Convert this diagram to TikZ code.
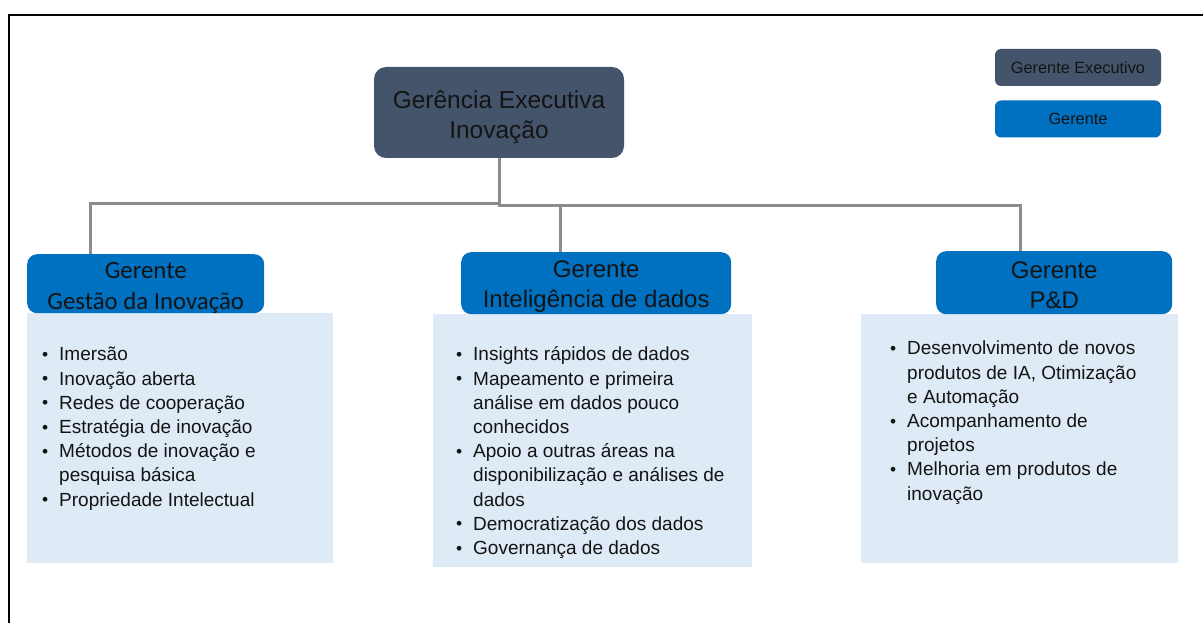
\documentclass[tikz,border=0pt]{standalone}
\usepackage{fontspec}
\setmainfont{Liberation Sans}
\newfontfamily\calibfont{Carlito}

\definecolor{execcol}{HTML}{44546A}
\definecolor{gercol}{HTML}{0070C0}
\definecolor{bodycol}{HTML}{DEEAF6}
\definecolor{linecol}{HTML}{8C8C8C}
\definecolor{txtcol}{HTML}{141414}

\newcommand{\orgbul}{\makebox[17pt][l]{\strut\raisebox{0.4pt}{\fontsize{17.5}{17.5}\selectfont\textbullet}}}
\newcommand{\orgcont}{\makebox[17pt][l]{\strut}}

\tikzset{
  execbox/.style={fill=execcol, rounded corners=12pt, minimum width=250pt, minimum height=91pt,
    inner sep=0pt},
  legbox/.style={rounded corners=6pt, minimum width=166pt, minimum height=37pt,
    text=txtcol, inner sep=0pt, font=\fontsize{16.3}{18}\selectfont},
  hdbox/.style={fill=gercol, rounded corners=10pt, anchor=north west, inner sep=0pt},
  boxtxt/.style={align=center, text=txtcol, inner sep=0pt, font=\fontsize{24}{30}\selectfont},
  bodybox/.style={fill=bodycol, anchor=north west, inner sep=0pt},
  bodytxt/.style={anchor=north west, align=left, inner sep=0pt, text=txtcol,
    font=\fontsize{19}{24.2}\selectfont},
  conn/.style={draw=linecol, line width=3pt},
  frameline/.style={draw=black, line width=2.5pt}
}

\begin{document}
\begin{tikzpicture}[x=1pt,y=-1pt]
  \useasboundingbox[fill=white] (0,0) rectangle (1203,623);
  \draw[frameline] (1203,15) -- (9,15) -- (9,623);

  % top box and legend
  \node[execbox] (exec) at (499,112.5) {};
  \node[boxtxt, font=\fontsize{24.5}{30}\selectfont] (exect) at ([yshift=-5pt]exec.center)
    {Gerência Executiva\\Inovação};
  \node[legbox, fill=execcol] (legexec) at (1078,67.5) {Gerente Executivo};
  \node[legbox, fill=gercol] (legger) at (1078,119) {Gerente};

  % bodies
  \node[bodybox, minimum width=306pt, minimum height=250pt] (bx1) at (27,313) {};
  \node[bodybox, minimum width=319pt, minimum height=253pt] (bx2) at (433,314) {};
  \node[bodybox, minimum width=317pt, minimum height=249pt] (bx3) at (861,314) {};

  % managers
  \node[hdbox, minimum width=237pt, minimum height=59pt] (hd1) at (27,254) {};
  \node[hdbox, minimum width=270pt, minimum height=62pt] (hd2) at (461,252) {};
  \node[hdbox, minimum width=236pt, minimum height=63pt] (hd3) at (936,251) {};
  \node[boxtxt, font=\calibfont\fontsize{24.8}{31}\selectfont] (hd1t) at ([yshift=-4pt]hd1.center)
    {Gerente\\Gestão da Inovação};
  \node[boxtxt] (hd2t) at ([yshift=-3pt]hd2.center) {Gerente\\Inteligência de dados};
  \node[boxtxt] (hd3t) at ([yshift=-2.5pt]hd3.center) {Gerente\\P\&D};

  % connectors
  \coordinate (busL) at (90,204);
  \coordinate (busR) at (1020,206);
  \coordinate (busM) at (560,206);
  \draw[conn] (exec.south) -- (exec.south |- busL) -- (busL) -- (busL |- hd1.north);
  \draw[conn] (exec.south |- busL) -- (exec.south |- busR) -- (busR) -- (busR |- hd3.north);
  \draw[conn] (busM) -- (busM |- hd2.north);

  % lists
  \node[bodytxt] (tx1) at (42,343.7) {%
    \orgbul Imersão\\
    \orgbul Inovação aberta\\
    \orgbul Redes de cooperação\\
    \orgbul Estratégia de inovação\\
    \orgbul Métodos de inovação e\\
    \orgcont pesquisa básica\\
    \orgbul Propriedade Intelectual};
  \node[bodytxt] (tx2) at (456,343.7) {%
    \orgbul Insights rápidos de dados\\
    \orgbul Mapeamento e primeira\\
    \orgcont análise em dados pouco\\
    \orgcont conhecidos\\
    \orgbul Apoio a outras áreas na\\
    \orgcont disponibilização e análises de\\
    \orgcont dados\\
    \orgbul Democratização dos dados\\
    \orgbul Governança de dados};
  \node[bodytxt] (tx3) at (890,337.7) {%
    \orgbul Desenvolvimento de novos\\
    \orgcont produtos de IA, Otimização\\
    \orgcont e Automação\\
    \orgbul Acompanhamento de\\
    \orgcont projetos\\
    \orgbul Melhoria em produtos de\\
    \orgcont inovação};
\end{tikzpicture}
\end{document}
